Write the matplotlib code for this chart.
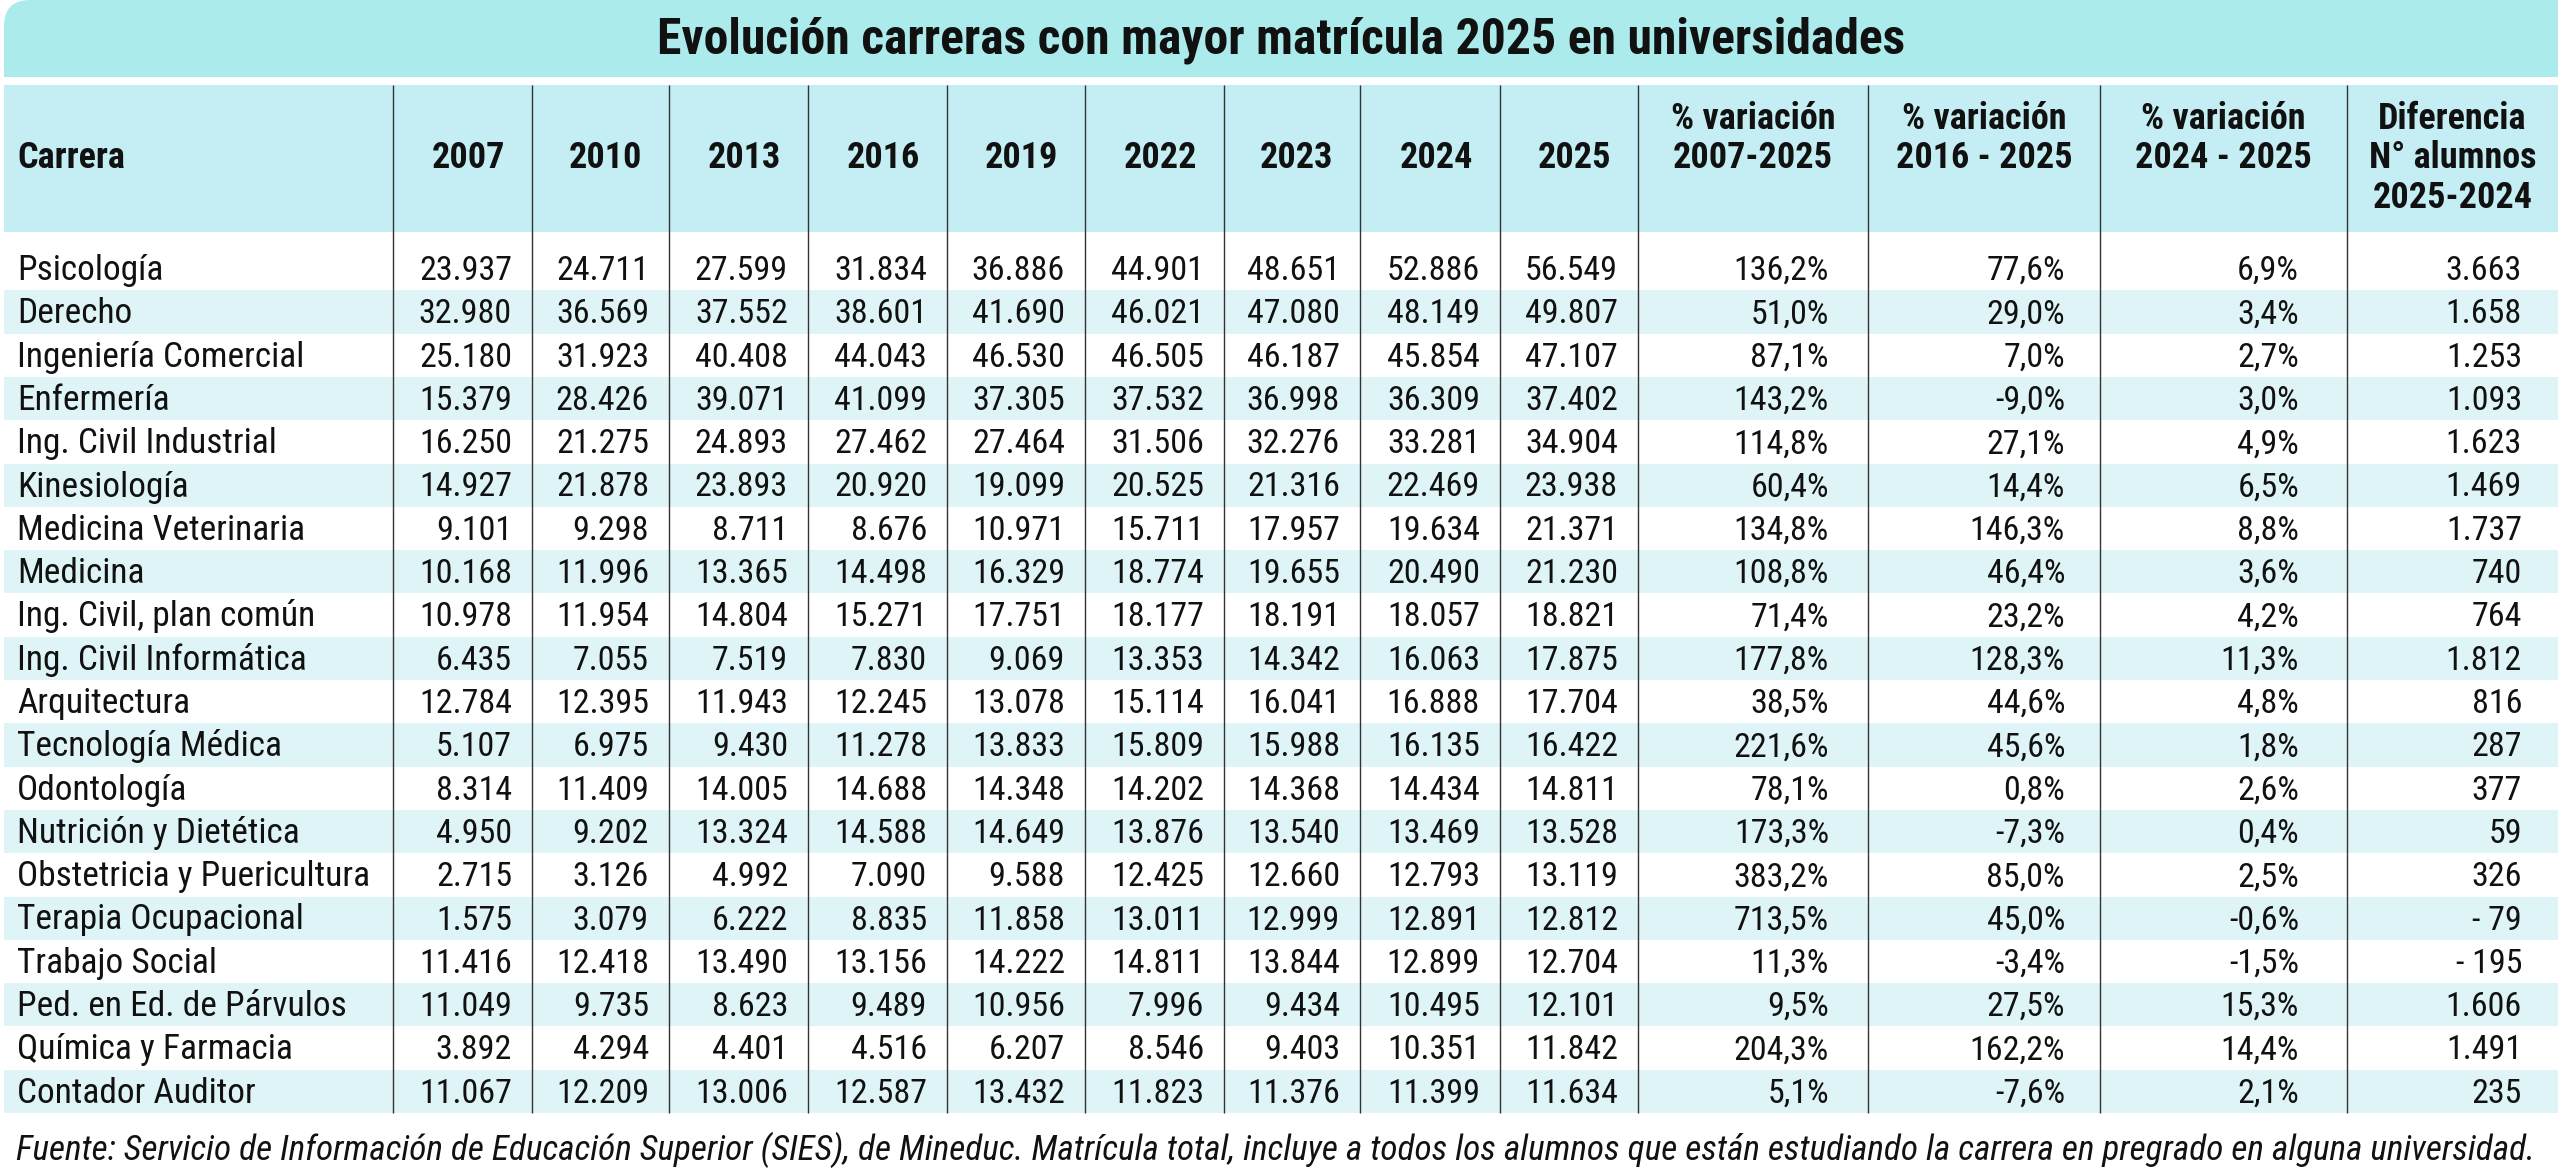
import matplotlib
matplotlib.use('Agg')
import matplotlib.pyplot as plt
from matplotlib import font_manager as fm
from matplotlib.path import Path
from matplotlib.patches import PathPatch, Rectangle

carreras = ['Psicología', 'Derecho', 'Ingeniería Comercial', 'Enfermería',
            'Ing. Civil Industrial', 'Kinesiología', 'Medicina Veterinaria',
            'Medicina', 'Ing. Civil, plan común', 'Ing. Civil Informática',
            'Arquitectura', 'Tecnología Médica', 'Odontología',
            'Nutrición y Dietética', 'Obstetricia y Puericultura',
            'Terapia Ocupacional', 'Trabajo Social', 'Ped. en Ed. de Párvulos',
            'Química y Farmacia', 'Contador Auditor']

anios = ['2007', '2010', '2013', '2016', '2019', '2022', '2023', '2024', '2025']

m2007 = [23937, 32980, 25180, 15379, 16250, 14927, 9101, 10168, 10978, 6435,
         12784, 5107, 8314, 4950, 2715, 1575, 11416, 11049, 3892, 11067]
m2010 = [24711, 36569, 31923, 28426, 21275, 21878, 9298, 11996, 11954, 7055,
         12395, 6975, 11409, 9202, 3126, 3079, 12418, 9735, 4294, 12209]
m2013 = [27599, 37552, 40408, 39071, 24893, 23893, 8711, 13365, 14804, 7519,
         11943, 9430, 14005, 13324, 4992, 6222, 13490, 8623, 4401, 13006]
m2016 = [31834, 38601, 44043, 41099, 27462, 20920, 8676, 14498, 15271, 7830,
         12245, 11278, 14688, 14588, 7090, 8835, 13156, 9489, 4516, 12587]
m2019 = [36886, 41690, 46530, 37305, 27464, 19099, 10971, 16329, 17751, 9069,
         13078, 13833, 14348, 14649, 9588, 11858, 14222, 10956, 6207, 13432]
m2022 = [44901, 46021, 46505, 37532, 31506, 20525, 15711, 18774, 18177, 13353,
         15114, 15809, 14202, 13876, 12425, 13011, 14811, 7996, 8546, 11823]
m2023 = [48651, 47080, 46187, 36998, 32276, 21316, 17957, 19655, 18191, 14342,
         16041, 15988, 14368, 13540, 12660, 12999, 13844, 9434, 9403, 11376]
m2024 = [52886, 48149, 45854, 36309, 33281, 22469, 19634, 20490, 18057, 16063,
         16888, 16135, 14434, 13469, 12793, 12891, 12899, 10495, 10351, 11399]
m2025 = [56549, 49807, 47107, 37402, 34904, 23938, 21371, 21230, 18821, 17875,
         17704, 16422, 14811, 13528, 13119, 12812, 12704, 12101, 11842, 11634]

var_07_25 = [136.2, 51.0, 87.1, 143.2, 114.8, 60.4, 134.8, 108.8, 71.4, 177.8,
             38.5, 221.6, 78.1, 173.3, 383.2, 713.5, 11.3, 9.5, 204.3, 5.1]
var_16_25 = [77.6, 29.0, 7.0, -9.0, 27.1, 14.4, 146.3, 46.4, 23.2, 128.3,
             44.6, 45.6, 0.8, -7.3, 85.0, 45.0, -3.4, 27.5, 162.2, -7.6]
var_24_25 = [6.9, 3.4, 2.7, 3.0, 4.9, 6.5, 8.8, 3.6, 4.2, 11.3,
             4.8, 1.8, 2.6, 0.4, 2.5, -0.6, -1.5, 15.3, 14.4, 2.1]
dif_alumnos = [3663, 1658, 1253, 1093, 1623, 1469, 1737, 740, 764, 1812,
               816, 287, 377, 59, 326, -79, -195, 1606, 1491, 235]

titulo = 'Evolución carreras con mayor matrícula 2025 en universidades'
fuente = ('Fuente: Servicio de Información de Educación Superior (SIES), de Mineduc. '
          'Matrícula total, incluye a todos los alumnos que están estudiando la '
          'carrera en pregrado en alguna universidad.')
encab_pct = [['% variación', '2007-2025'], ['% variación', '2016 - 2025'],
             ['% variación', '2024 - 2025'], ['Diferencia', 'N° alumnos', '2025-2024']]


def miles(n):
    s = f'{abs(n):,}'.replace(',', '.')
    return s if n >= 0 else '- ' + s


def pct(v):
    return f'{v:.1f}'.replace('.', ',') + '%'


# ---- fonts: the original uses a condensed sans; take the best narrow face around ----
BASES = ['Liberation Sans', 'Arial', 'Roboto', 'Noto Sans', 'Open Sans', 'Lato', 'Inter', 'DejaVu Sans']


def rank(f):
    nm = f.name
    r = next((i for i, b in enumerate(BASES) if nm.startswith(b)), 50)
    if 'Semi' in nm or f.stretch == 'semi-condensed':
        r += 0.5
    return r


def find_font(weight, italic):
    cands = []
    for f in fm.fontManager.ttflist:
        nm = f.name
        if 'Mono' in nm or 'Serif' in nm:
            continue
        narrow = 'Narrow' in nm or 'Condensed' in nm or f.stretch in ('condensed', 'semi-condensed')
        if not narrow or 'Extra' in nm or 'Ultra' in nm:
            continue
        if f.stretch in ('extra-condensed', 'ultra-condensed'):
            continue
        if (f.style in ('italic', 'oblique')) != italic:
            continue
        w = f.weight if isinstance(f.weight, int) else fm.weight_dict.get(f.weight, 400)
        if abs(w - weight) > 50:
            continue
        cands.append(f)
    if not cands:
        return None
    return sorted(cands, key=rank)[0].fname


def fp(weight, italic, size):
    fn = find_font(weight, italic)
    if fn:
        return fm.FontProperties(fname=fn, size=size)
    return fm.FontProperties(family='DejaVu Sans', weight='bold' if weight > 500 else 'normal',
                             style='italic' if italic else 'normal', size=size * 0.85)


TITLE_BG = '#abebec'
HEAD_BG = '#c4eef3'
STRIPE = '#def4f6'
INK = '#111111'
LINE = '#333333'

W, H = 2560, 1170
fig = plt.figure(figsize=(W / 100, H / 100), dpi=100)
ax = fig.add_axes([0, 0, 1, 1])
ax.set_xlim(0, W)
ax.set_ylim(H, 0)
ax.axis('off')

edges = [4, 393, 532, 669, 808, 947, 1085, 1224, 1360, 1500, 1638, 1868, 2100, 2347, 2558]
head_top, head_bot = 85, 232
row_top, row_h = 247, 43.3
n = len(carreras)
table_bot = row_top + n * row_h

# title band, rounded top-left corner
x0, x1, y0, y1, r = edges[0], edges[-1], 0, 77, 26
band = Path([(x0, y1), (x0, y0 + r), (x0, y0), (x0 + r, y0), (x1, y0), (x1, y1), (x0, y1)],
            [Path.MOVETO, Path.LINETO, Path.CURVE3, Path.CURVE3, Path.LINETO, Path.LINETO, Path.CLOSEPOLY])
ax.add_patch(PathPatch(band, facecolor=TITLE_BG, edgecolor='none'))
t_title = ax.text((x0 + x1) / 2, 54, titulo, ha='center', va='baseline', color=INK,
                  fontproperties=fp(700, False, 30))

# header band
ax.add_patch(Rectangle((x0, head_top), x1 - x0, head_bot - head_top, facecolor=HEAD_BG, edgecolor='none'))

# stripes
for i in range(n):
    if i % 2 == 1:
        ax.add_patch(Rectangle((x0, row_top + i * row_h), x1 - x0, row_h,
                               facecolor=STRIPE, edgecolor='none'))

# vertical rules
ax.vlines(edges[1:-1], head_top, table_bot, color=LINE, linewidth=1.0)

# headers
hb = fp(700, False, 26)
ax.text(17, 168, 'Carrera', ha='left', va='baseline', color=INK, fontproperties=hb)
for j, a in enumerate(anios):
    ax.text(edges[j + 2] - 27, 168, a, ha='right', va='baseline', color=INK, fontproperties=hb)
for k, lines in enumerate(encab_pct):
    cx = (edges[10 + k] + edges[11 + k]) / 2
    for li, s in enumerate(lines):
        ax.text(cx, 129 + li * 39.5, s, ha='center', va='baseline', color=INK, fontproperties=hb)

# body
body = fp(400, False, 24.5)
names = fp(400, False, 25.5)
series = [m2007, m2010, m2013, m2016, m2019, m2022, m2023, m2024, m2025]
extra = [(var_07_25, pct, 39), (var_16_25, pct, 35), (var_24_25, pct, 48), (dif_alumnos, miles, 36)]
for i in range(n):
    yb = row_top + i * row_h + 33
    ax.text(17, yb, carreras[i], ha='left', va='baseline', color=INK, fontproperties=names)
    for j, s in enumerate(series):
        ax.text(edges[j + 2] - 20, yb, miles(s[i]), ha='right', va='baseline',
                color=INK, fontproperties=body)
    for k, (vals, f, pad) in enumerate(extra):
        ax.text(edges[11 + k] - pad, yb, f(vals[i]), ha='right', va='baseline',
                color=INK, fontproperties=body)

t_foot = ax.text(16, 1160, fuente, ha='left', va='baseline', color=INK,
                 fontproperties=fp(400, True, 22))

# the first column must not spill over its rule
rend = fig.canvas.get_renderer()
widest = max(t.get_window_extent(rend).width for t in ax.texts
             if t.get_text() in carreras)
if widest > edges[1] - 17 - 12:
    scale = (edges[1] - 17 - 12) / widest
    for t in ax.texts:
        if t.get_text() in carreras:
            t.set_fontsize(t.get_fontsize() * scale)

# size title and footnote to the widths they take in the reference
for t, target in [(t_title, 1250), (t_foot, 2522)]:
    w = t.get_window_extent(rend).width
    t.set_fontsize(t.get_fontsize() * target / w)

fig.savefig('out.png', dpi=100, facecolor='white')
